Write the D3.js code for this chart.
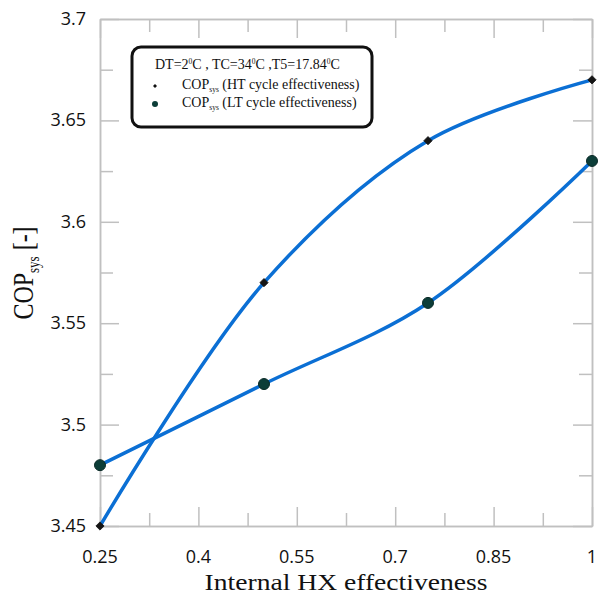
<!DOCTYPE html>
<html><head><meta charset="utf-8">
<script src="https://cdn.jsdelivr.net/npm/d3@7"></script>
<style>body{margin:0;background:#fff}</style>
</head><body>
<script>
const xValues = [0.25, 0.5, 0.75, 1.0];
const htValues = [3.45, 3.57, 3.64, 3.67];
const ltValues = [3.48, 3.52, 3.56, 3.63];
const xTicks = [0.25, 0.4, 0.55, 0.7, 0.85, 1];
const yTicks = [3.45, 3.5, 3.55, 3.6, 3.65, 3.7];
const legendParts = [["DT=2", "C , TC=34", "C ,T5=17.84", "C"]];
const seriesNames = ["(HT cycle effectiveness)", "(LT cycle effectiveness)"];

const W = 598, H = 605;
const L = 100, R = 592, T = 19, B = 526;
const svg = d3.select("body").append("svg").attr("width", W).attr("height", H);
const x = d3.scaleLinear().domain([0.25, 1]).range([L, R]);
const y = d3.scaleLinear().domain([3.45, 3.7]).range([B, T]);
const axisColor = "#c0c0c0";

const xMinor = d3.range(0, 5).map(i => 0.325 + i * 0.15);
const yMinor = d3.range(0, 5).map(i => 3.475 + i * 0.05);

function styleAxis(g) {
  g.selectAll("path").attr("stroke", axisColor).attr("stroke-width", 1.5);
  g.selectAll("line").attr("stroke", axisColor).attr("stroke-width", 1.5);
  g.selectAll("text").remove();
}
function axes(vals, len) {
  svg.append("g").attr("transform", `translate(0,${B})`).call(d3.axisBottom(x).tickValues(vals[0]).tickSizeInner(-len).tickSizeOuter(0)).call(styleAxis);
  svg.append("g").attr("transform", `translate(0,${T})`).call(d3.axisTop(x).tickValues(vals[0]).tickSizeInner(-len).tickSizeOuter(0)).call(styleAxis);
  svg.append("g").attr("transform", `translate(${L},0)`).call(d3.axisLeft(y).tickValues(vals[1]).tickSizeInner(-len).tickSizeOuter(0)).call(styleAxis);
  svg.append("g").attr("transform", `translate(${R},0)`).call(d3.axisRight(y).tickValues(vals[1]).tickSizeInner(-len).tickSizeOuter(0)).call(styleAxis);
}
axes([xTicks, yTicks], 19);
axes([xMinor, yMinor], 13);

const tickFont = "'Open Sans', 'Noto Sans', sans-serif";
svg.append("g").selectAll("text").data(xTicks).join("text")
  .attr("x", d => x(d)).attr("y", 563).attr("text-anchor", "middle")
  .attr("font-family", tickFont).attr("font-size", 18).attr("fill", "#111")
  .text(d => d3.format("")(d));
svg.append("g").selectAll("text").data(yTicks).join("text")
  .attr("x", 86).attr("y", d => y(d) + 6).attr("text-anchor", "end")
  .attr("font-family", tickFont).attr("font-size", 18).attr("fill", "#111")
  .text(d => d3.format("")(d));

const serif = "'Liberation Serif', 'Times New Roman', serif";
svg.append("text").attr("transform", "translate(346,590) scale(1.2,1)").attr("text-anchor", "middle")
  .attr("font-family", serif).attr("font-size", 23).attr("fill", "#111")
  .text("Internal HX effectiveness");
const yt = svg.append("text").attr("transform", "translate(33,273) scale(1.25,1) rotate(-90)").attr("text-anchor", "middle")
  .attr("font-family", serif).attr("font-size", 24).attr("fill", "#111");
yt.append("tspan").text("COP");
yt.append("tspan").attr("font-size", 13).attr("dy", 5).text("sys");
yt.append("tspan").attr("dy", -5).text(" [-]");

const htData = xValues.map((v, i) => [v, htValues[i]]);
const ltData = xValues.map((v, i) => [v, ltValues[i]]);
const line = d3.line().x(d => x(d[0])).y(d => y(d[1])).curve(d3.curveCatmullRom.alpha(0.5));
const blue = "#0b6fd4";
[htData, ltData].forEach(dd => svg.append("path").attr("d", line(dd)).attr("fill", "none")
  .attr("stroke", blue).attr("stroke-width", 3.5));

svg.append("g").selectAll("path").data(htData).join("path")
  .attr("d", d3.symbol(d3.symbolSquare, 34)())
  .attr("transform", d => `translate(${x(d[0])},${y(d[1])}) rotate(45)`)
  .attr("fill", "#151515").attr("stroke", "#151515").attr("stroke-width", 0.8);
svg.append("g").selectAll("circle").data(ltData).join("circle")
  .attr("cx", d => x(d[0])).attr("cy", d => y(d[1])).attr("r", 5.5)
  .attr("fill", "#0c3d38").attr("stroke", "#0a2a27").attr("stroke-width", 1);

const lg = svg.append("g");
lg.append("rect").attr("x", 132).attr("y", 47).attr("width", 240).attr("height", 80).attr("rx", 9)
  .attr("fill", "#fff").attr("stroke", "#111").attr("stroke-width", 3);
const tt = lg.append("text").attr("x", 155).attr("y", 69)
  .attr("font-family", serif).attr("font-size", 14).attr("fill", "#111");
legendParts[0].forEach((p, i) => {
  tt.append("tspan").attr("dy", i === 0 ? 0 : 5).attr("font-size", 14).text(p);
  if (i < legendParts[0].length - 1) tt.append("tspan").attr("font-size", 7.5).attr("dy", -5).text("0");
});
lg.append("path").attr("d", d3.symbol(d3.symbolSquare, 8)()).attr("transform", "translate(155,86) rotate(45)").attr("fill", "#111");
lg.append("circle").attr("cx", 155).attr("cy", 104).attr("r", 3).attr("fill", "#0c3d38");
seriesNames.forEach((s, i) => {
  const t = lg.append("text").attr("x", 182).attr("y", 89 + i * 18)
    .attr("font-family", serif).attr("font-size", 14).attr("fill", "#111");
  t.append("tspan").text("COP");
  t.append("tspan").attr("font-size", 7.5).attr("dy", 3).text("sys");
  t.append("tspan").attr("dy", -3).text(" " + s);
});
</script>
</body></html>
